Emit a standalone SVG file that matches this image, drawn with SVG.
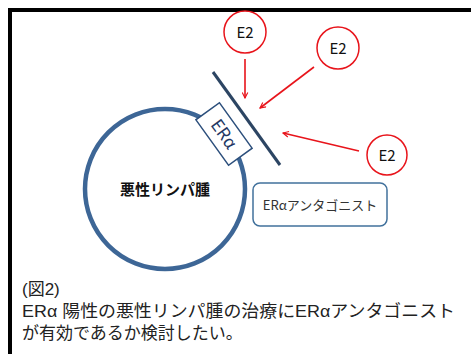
<svg xmlns="http://www.w3.org/2000/svg" width="471" height="354" viewBox="0 0 471 354">
<defs>
<marker id="ah" viewBox="0 0 10 10" refX="9" refY="5" markerWidth="7" markerHeight="7" orient="auto" markerUnits="userSpaceOnUse"><path d="M1,1 L9,5 L1,9" fill="none" stroke="#e8141b" stroke-width="1.6"/></marker>
</defs>
<style>
.t{font-family:"Noto Sans CJK JP","Noto Sans",sans-serif;}
.c{font-family:"Liberation Sans","Noto Sans CJK JP",sans-serif;}
.e2c{fill:#fff;stroke:#e8141b;stroke-width:1.5;}
.e2t{font-size:15px;fill:#111;text-anchor:middle;}
.arr{stroke:#e8141b;stroke-width:1.6;fill:none;marker-end:url(#ah);}
</style>
<rect width="471" height="354" fill="#fff"/>
<path d="M10,354 V10 H471" fill="none" stroke="#000" stroke-width="4"/>
<g id="cell">
<circle cx="165" cy="189" r="80" fill="#fff" stroke="#3d6696" stroke-width="4.5"/>
<text class="t" x="165" y="195" font-size="15" font-weight="bold" fill="#111" text-anchor="middle">悪性リンパ腫</text>
</g>
<g id="membrane">
<line x1="213" y1="72" x2="280" y2="165" stroke="#2c4563" stroke-width="3"/>
</g>
<g id="era" transform="translate(224,134) rotate(54.3)">
<rect x="-28" y="-14.5" width="56" height="29" fill="#fff" stroke="#2c4f7c" stroke-width="1.5"/>
<text class="t" x="0" y="6" font-size="17" fill="#1f3864" text-anchor="middle">ERα</text>
</g>
<g id="antagonist">
<rect x="253" y="183" width="134" height="43" rx="7" fill="#fff" stroke="#41719c" stroke-width="1.5"/>
<text class="t" x="320" y="210" font-size="13" fill="#333" text-anchor="middle">ERαアンタゴニスト</text>
</g>
<g id="e2a"><circle class="e2c" cx="245" cy="32" r="21"/><text class="t e2t" x="245" y="37.5">E2</text></g>
<g id="e2b"><circle class="e2c" cx="338" cy="48" r="21"/><text class="t e2t" x="338" y="53.5">E2</text></g>
<g id="e2c"><circle class="e2c" cx="387" cy="155" r="20"/><text class="t e2t" x="387" y="160.5">E2</text></g>
<g id="connectors">
<line class="arr" x1="245" y1="59" x2="245" y2="98"/>
<line class="arr" x1="314" y1="67" x2="260" y2="108"/>
<line class="arr" x1="359" y1="151" x2="283" y2="133"/>
</g>
<g id="caption" class="c" font-size="17" fill="#222">
<text x="22" y="295">(図2)</text>
<text x="22" y="317" textLength="433" lengthAdjust="spacingAndGlyphs">ERα 陽性の悪性リンパ腫の治療にERαアンタゴニスト</text>
<text x="22" y="339">が有効であるか検討したい。</text>
</g>
</svg>
